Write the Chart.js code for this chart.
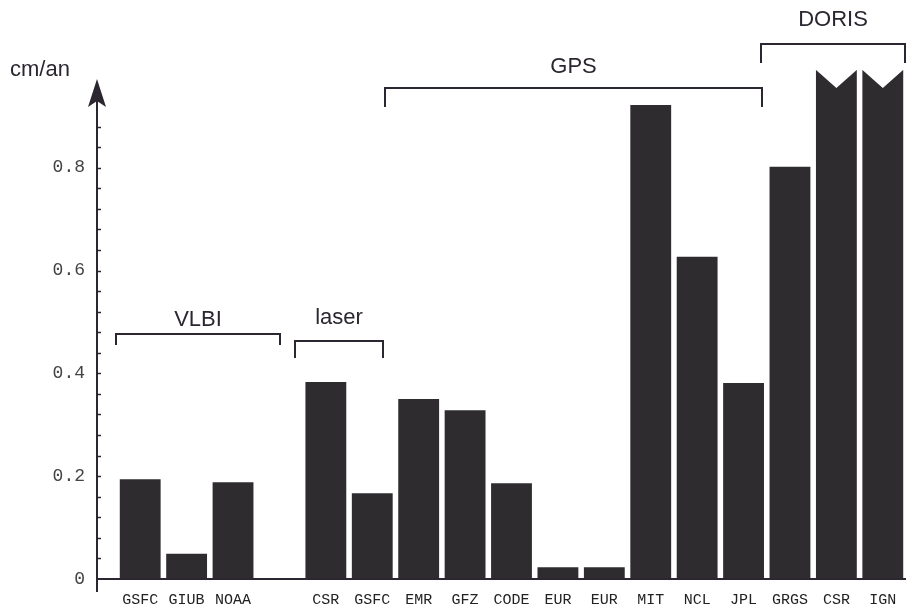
<!DOCTYPE html>
<html>
<head>
<meta charset="utf-8">
<script src="https://cdn.jsdelivr.net/npm/chart.js@4"></script>
<style>
  body { margin: 0; background: #fff; }
  canvas { display: block; }
</style>
</head>
<body>
<canvas id="rateChart" width="906" height="607"></canvas>
<script>
// centre names, a blank slot separates VLBI from laser
const centres = ["GSFC", "GIUB", "NOAA", "", "CSR", "GSFC", "EMR", "GFZ", "CODE", "EUR", "EUR", "MIT", "NCL", "JPL", "GRGS", "CSR", "IGN"];
// rates in cm/an; the last two go off the top of the scale
const rates = [0.194, 0.049, 0.188, null, 0.383, 0.167, 0.35, 0.328, 0.186, 0.023, 0.023, 0.922, 0.627, 0.381, 0.802, 1.1, 1.1];
const brokenBars = [15, 16];
const tickValues = [0, 0.2, 0.4, 0.6, 0.8];
const minorStep = 0.04;
const yMax = 0.99;

const ink = "#2b2630";
const barColor = "#2e2c2f";

const decorPlugin = {
    id: "decor",
    afterDatasetsDraw(chart) {
        const ctx = chart.ctx;
        const meta = chart.getDatasetMeta(0);
        const top = chart.chartArea.top;
        ctx.save();
        ctx.fillStyle = "#fff";
        brokenBars.forEach((i) => {
            const bar = meta.data[i];
            const half = bar.width / 2;
            ctx.beginPath();
            ctx.moveTo(bar.x - half - 1, top - 1);
            ctx.lineTo(bar.x, top + 18);
            ctx.lineTo(bar.x + half + 1, top - 1);
            ctx.closePath();
            ctx.fill();
        });
        ctx.restore();
    },
    afterDraw(chart) {
        const ctx = chart.ctx;
        const y = chart.scales.y;
        const axisX = 97;
        const base = y.getPixelForValue(0);
        ctx.save();
        ctx.strokeStyle = ink;
        ctx.fillStyle = ink;
        ctx.lineWidth = 2;

        // baseline and vertical axis
        ctx.beginPath();
        ctx.moveTo(axisX, base);
        ctx.lineTo(chart.width, base);
        ctx.moveTo(axisX, base + 13);
        ctx.lineTo(axisX, 92);
        ctx.stroke();

        // minor ticks
        ctx.lineWidth = 1.5;
        ctx.beginPath();
        for (let v = minorStep; v < 0.9; v += minorStep) {
            const py = Math.round(y.getPixelForValue(v)) + 0.5;
            ctx.moveTo(axisX, py);
            ctx.lineTo(axisX + 4, py);
        }
        ctx.stroke();

        // arrow head
        ctx.beginPath();
        ctx.moveTo(axisX, 79);
        ctx.lineTo(axisX + 9, 107);
        ctx.lineTo(axisX, 101);
        ctx.lineTo(axisX - 9, 107);
        ctx.closePath();
        ctx.fill();

        // group brackets
        ctx.lineWidth = 2;
        const brackets = [
            { text: "VLBI", x0: 116, x1: 280, y: 334, drop: 11, ty: 320 },
            { text: "laser", x0: 295, x1: 383, y: 341, drop: 17, ty: 318 },
            { text: "GPS", x0: 385, x1: 762, y: 88, drop: 19, ty: 67 },
            { text: "DORIS", x0: 761, x1: 905, y: 44, drop: 19, ty: 20 },
        ];
        ctx.font = "22px 'Liberation Sans', Arial, sans-serif";
        ctx.textAlign = "center";
        ctx.textBaseline = "middle";
        brackets.forEach((b) => {
            ctx.beginPath();
            ctx.moveTo(b.x0, b.y + b.drop);
            ctx.lineTo(b.x0, b.y);
            ctx.lineTo(b.x1, b.y);
            ctx.lineTo(b.x1, b.y + b.drop);
            ctx.stroke();
            ctx.fillText(b.text, (b.x0 + b.x1) / 2, b.ty);
        });

        // unit label
        ctx.textAlign = "left";
        ctx.fillText("cm/an", 10, 70);
        ctx.restore();
    },
};

new Chart(document.getElementById("rateChart"), {
    type: "bar",
    data: {
        labels: centres,
        datasets: [
            {
                data: rates,
                backgroundColor: barColor,
                borderWidth: 0,
                categoryPercentage: 1,
                barPercentage: 0.88,
            },
        ],
    },
    options: {
        responsive: false,
        animation: false,
        layout: { padding: { top: 70, right: 0, left: 0, bottom: 0 } },
        plugins: {
            legend: { display: false },
            tooltip: { enabled: false },
        },
        scales: {
            x: {
                grid: { display: false, drawTicks: false },
                border: { display: false },
                afterFit: (scale) => {
                    scale.height = 28;
                    scale.paddingLeft = 0;
                    scale.paddingRight = 0;
                },
                ticks: {
                    padding: 12,
                    autoSkip: false,
                    maxRotation: 0,
                    color: "#222",
                    font: { family: "'Liberation Mono', monospace", size: 15 },
                },
            },
            y: {
                min: 0,
                max: yMax,
                grid: { display: false, drawTicks: false },
                border: { display: false },
                afterFit: (scale) => {
                    scale.width = 117;
                    scale.paddingTop = 0;
                    scale.paddingBottom = 0;
                },
                afterBuildTicks: (scale) => {
                    scale.ticks = tickValues.map((v) => ({ value: v }));
                },
                ticks: {
                    padding: 32,
                    color: "#444",
                    font: { family: "'Liberation Mono', monospace", size: 18 },
                    callback: (v) => (v === 0 ? "0" : v.toFixed(1)),
                },
            },
        },
    },
    plugins: [decorPlugin],
});
</script>
</body>
</html>
